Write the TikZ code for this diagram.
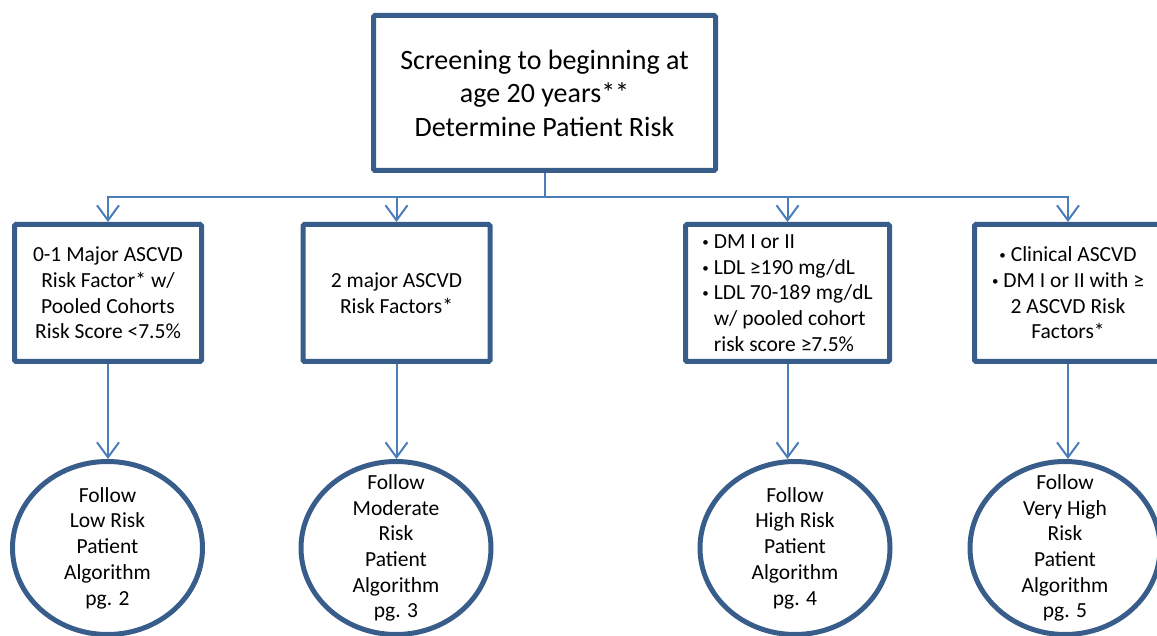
\documentclass[tikz,border=0pt]{standalone}
\usepackage{fontspec}
\setmainfont{Carlito}
\usetikzlibrary{arrows.meta,shapes.geometric}
\definecolor{boxblue}{RGB}{56,93,138}
\definecolor{linkblue}{RGB}{74,126,187}
\newcommand{\bul}{\raisebox{2pt}{\fontsize{13}{13}\selectfont•}\hspace{5pt}}
\begin{document}
\begin{tikzpicture}[x=1pt,y=-1pt,
  topbox/.style={draw=boxblue,line width=5pt,rounded corners=1.5pt,minimum width=342pt,minimum height=155pt,align=center,font=\fontsize{28}{33.5}\selectfont},
  riskbox/.style={draw=boxblue,line width=5pt,rounded corners=1.5pt,minimum width=187pt,minimum height=137pt,align=center,inner sep=2pt,font=\fontsize{21.5}{25.7}\selectfont},
  algo/.style={ellipse,draw=boxblue,line width=5pt,minimum width=190pt,minimum height=173pt,inner sep=0pt},
  algotext/.style={align=center,font=\fontsize{21.5}{25.7}\selectfont},
  link/.style={draw=linkblue,line width=2pt},
  linkarrow/.style={link,-{Straight Barb[length=15pt,width=22pt,line width=2pt]}}]

\useasboundingbox (0,0) rectangle (1157,636);

% top
\node[topbox] (screen) at (544.5,93) {Screening to beginning at\\age 20 years**\\Determine Patient Risk};

% risk groups
\node[riskbox] (low) at (108,293) {0-1 Major ASCVD\\Risk Factor* w/\\Pooled Cohorts\\Risk Score <7.5\%};
\node[riskbox] (moderate) at (396.5,293) {2 major ASCVD\\Risk Factors*};
\node[riskbox,minimum width=204pt,align=left] (high) at (787.5,293) {\bul DM I or II\\\bul LDL ≥190 mg/dL\\\bul LDL 70-189 mg/dL\\\hphantom{\bul}w/ pooled cohort\\\hphantom{\bul}risk score ≥7.5\%};
\node[riskbox] (veryhigh) at (1068,293) {\bul Clinical ASCVD\\\bul DM I or II with ≥\\2 ASCVD Risk\\Factors*};

% algorithms
\node[algo] (e1) at (107.5,548) {};
\node[algo] (e2) at (396,548) {};
\node[algo] (e3) at (795,548) {};
\node[algo] (e4) at (1065,548) {};
\node[algotext] (t1) at (e1.center) {Follow\\Low Risk\\Patient\\Algorithm\\pg. 2};
\node[algotext] (t2) at (e2.center) {Follow\\Moderate\\Risk\\Patient\\Algorithm\\pg. 3};
\node[algotext] (t3) at (e3.center) {Follow\\High Risk\\Patient\\Algorithm\\pg. 4};
\node[algotext] (t4) at (e4.center) {Follow\\Very High\\Risk\\Patient\\Algorithm\\pg. 5};

% connectors
\draw[link] (screen.south) -- ++(0,24) coordinate (split);
\draw[linkarrow] (split) -| (low.north);
\draw[linkarrow] (split) -| (moderate.north);
\draw[linkarrow] (split) -| (high.north);
\draw[linkarrow] (split) -| (veryhigh.north);
\draw[linkarrow] (low.south) -- (low.south |- e1.north);
\draw[linkarrow] (moderate.south) -- (moderate.south |- e2.north);
\draw[linkarrow] (high.south) -- (high.south |- e3.north);
\draw[linkarrow] (veryhigh.south) -- (veryhigh.south |- e4.north);
\end{tikzpicture}
\end{document}
